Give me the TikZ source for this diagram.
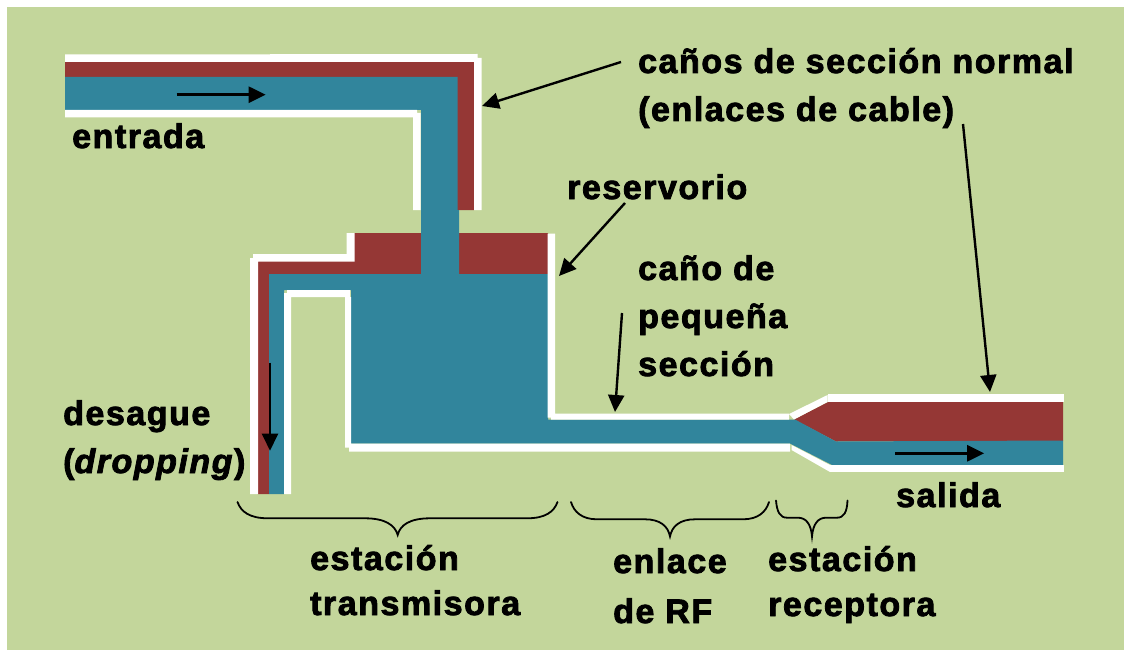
\documentclass[tikz,border=0pt]{standalone}
\usepackage{fontspec}
\setmainfont{Liberation Sans}[LetterSpace=4.5,BoldFeatures={FakeBold=2.4},BoldItalicFeatures={FakeBold=2.4}]
\usetikzlibrary{arrows.meta}
\definecolor{bggreen}{HTML}{C3D69B}
\definecolor{pipered}{HTML}{953735}
\definecolor{pipeteal}{HTML}{31859C}
\tikzset{
  label text/.style={font=\fontsize{34}{40}\selectfont\bfseries,text=black,anchor=base west,inner sep=0pt,align=left},
  flow/.style={draw=black,line width=2.4pt,-{Triangle[length=17pt,width=16pt]}},
  pointer/.style={draw=black,line width=2.4pt,-{Triangle[length=17pt,width=16pt]}},
  curly/.style={draw=black,line width=1.8pt,line cap=round},
}
\begin{document}
\begin{tikzpicture}[x=1pt,y=-1pt]
\useasboundingbox (0,0) rectangle (1124,650);
\fill[white] (0,0) rectangle (1124,650);
\fill[bggreen] (7,7) rectangle (1124,650);
% red parts
\fill[pipered] (65,62) -- (474,62) -- (474,210) -- (421,210) -- (421,110) -- (65,110) -- cycle;
\fill[pipered] (354,233) -- (548,233) -- (548,274) -- (269,274) -- (269,494) -- (257.5,494) -- (257.5,261) -- (354,261) -- cycle;
\fill[pipered] (794,419.5) -- (828,402) -- (1063,402) -- (1063,441) -- (836,441.5) -- cycle;
% teal parts
\fill[pipeteal] (65,77) -- (457.5,77) -- (457.5,210) -- (459,210) -- (459,274) -- (548,274) -- (548,419.5) -- (795,419.5) -- (836,441.5) -- (1063,440.5) -- (1063,465) -- (832,465) -- (790,443.5) -- (351,443.5) -- (351,290) -- (284,290) -- (284,494) -- (269,494) -- (269,274) -- (421,274) -- (421,110) -- (65,110) -- cycle;
% white edges
\fill[white] (65,54.5) -- (477.5,54) -- (477.5,58) -- (481.7,58) -- (481.7,210) -- (474,210) -- (474,62) -- (65,62) -- cycle;
\fill[white] (65,110) -- (417,110) -- (417,113) -- (420.5,113) -- (420.5,210) -- (413,210) -- (413,117.5) -- (65,117.5) -- cycle;
\fill[white] (346.5,233) -- (354.5,233) -- (354.5,261.5) -- (258,261.5) -- (258,494) -- (250,494) -- (250,258) -- (253,258) -- (253,254) -- (346.5,254) -- cycle;
\fill[white] (284,494) -- (284,293) -- (287,293) -- (287,290) -- (350,290) -- (350,297) -- (291,297) -- (291,494) -- cycle;
\fill[white] (345,297) -- (351,297) -- (351,443.5) -- (790,443.5) -- (790,451.5) -- (349,451.5) -- (349,447.5) -- (345,447.5) -- cycle;
\fill[white] (547.5,233.5) -- (555,233.5) -- (555,413.5) -- (789,413.5) -- (789,419.5) -- (551,419.5) -- (551,417.5) -- (547.5,417.5) -- cycle;
\fill[white] (789,414) -- (827.5,395) -- (827.5,402) -- (794,419.5) -- cycle;
\fill[white] (827.5,394) -- (1063.5,394) -- (1063.5,402) -- (827.5,402) -- cycle;
\fill[white] (791.5,445) -- (830,465) -- (830,472) -- (791.5,450) -- cycle;
\fill[white] (830,465) -- (1063.5,465) -- (1063.5,472.3) -- (830,472.3) -- cycle;
% texts
\node[label text] (t1) at (638,73) {caños de sección normal};
\node[label text] (t2) at (638,121) {(enlaces de cable)};
\node[label text] (t3) at (72,148) {entrada};
\node[label text] (t4) at (567,199) {reservorio};
\node[label text] (t5) at (638,280) {caño de};
\node[label text] (t6) at (638,328) {pequeña};
\node[label text] (t7) at (638,376) {sección};
\node[label text] (t8) at (63,425) {desague};
\node[label text] (t9) at (63,473) {(\textit{dropping})};
\node[label text] (t10) at (896,507) {salida};
\node[label text] (t11) at (310,570) {estación};
\node[label text] (t12) at (310,615) {transmisora};
\node[label text] (t13) at (613,573) {enlace};
\node[label text] (t14) at (613,623) {de RF};
\node[label text] (t15) at (768,571) {estación};
\node[label text] (t16) at (768,616) {receptora};
% arrows
\coordinate (a1s) at (176.7,94.7); \coordinate (a1e) at (265.7,94.7);
\coordinate (a2s) at (270,362.7); \coordinate (a2e) at (270,450.7);
\coordinate (a3s) at (895.4,453.3); \coordinate (a3e) at (984.2,453.3);
\coordinate (p1s) at (621,62); \coordinate (p1e) at (482,106);
\coordinate (p2s) at (625,203); \coordinate (p2e) at (559,276);
\coordinate (p3s) at (622,313); \coordinate (p3e) at (615,412);
\coordinate (p4s) at (963,124); \coordinate (p4e) at (990,392);
\draw[flow] (a1s) -- (a1e);
\draw[flow] (a2s) -- (a2e);
\draw[flow] (a3s) -- (a3e);
\draw[pointer] (p1s) -- (p1e);
\draw[pointer] (p2s) -- (p2e);
\draw[pointer] (p3s) -- (p3e);
\draw[pointer] (p4s) -- (p4e);
% braces
\draw[curly] (237.5,502) .. controls (241,512) and (250,518.3) .. (268,518.3) -- (365,518.3) .. controls (385,518.3) and (395,525) .. (397.7,535) .. controls (400,525) and (410,518.3) .. (430,518.3) -- (527,518.3) .. controls (545,518.3) and (554,512) .. (557.5,502);
\draw[curly] (571,502) .. controls (574,512) and (582,519.3) .. (597,519.3) -- (645,519.3) .. controls (660,519.3) and (668,526) .. (670,536.5) .. controls (672,526) and (680,519.3) .. (695,519.3) -- (743,519.3) .. controls (758,519.3) and (766,512) .. (769,502);
\draw[curly] (776,500.5) .. controls (777,512) and (780,517.7) .. (787,517.7) -- (798,517.7) .. controls (806,517.7) and (811,524) .. (812,536.5) .. controls (813,524) and (818,517.7) .. (826,517.7) -- (837,517.7) .. controls (844,517.7) and (847,512) .. (847.5,500.5);
\end{tikzpicture}
\end{document}
